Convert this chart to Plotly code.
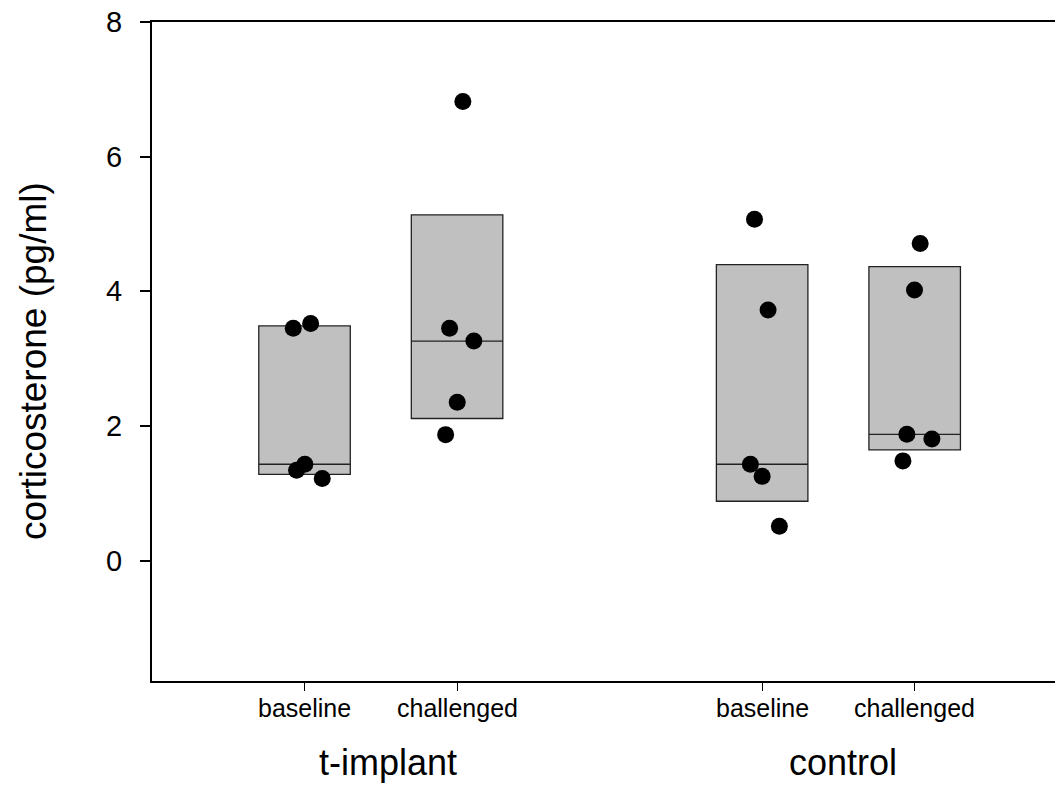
import numpy as np
import plotly.graph_objects as go

# ---- data ----
groups = ["t-implant", "control"]
conditions = ["baseline", "challenged", "baseline", "challenged"]
positions = [1, 2, 4, 5]

timplant_baseline = [3.45, 3.52, 1.43, 1.34, 1.22]
timplant_challenged = [6.82, 3.45, 3.26, 2.35, 1.87]
control_baseline = [5.07, 3.72, 1.43, 1.25, 0.51]
control_challenged = [4.71, 4.02, 1.875, 1.805, 1.48]

# horizontal scatter of the dots around each category
jit_tb = [-0.074, 0.040, 0.002, -0.052, 0.116]
jit_tc = [0.038, -0.049, 0.110, 0.001, -0.075]
jit_cb = [-0.050, 0.039, -0.077, 0.000, 0.113]
jit_cc = [0.036, -0.001, -0.051, 0.113, -0.077]

series = [timplant_baseline, timplant_challenged, control_baseline, control_challenged]
jitters = [jit_tb, jit_tc, jit_cb, jit_cc]


def quartiles(v):
    s = np.sort(np.asarray(v, dtype=float))
    n = len(s)
    med = float(np.median(s))
    lower = s[: n // 2]
    upper = s[(n + 1) // 2:]
    return float(np.median(lower)), med, float(np.median(upper))


fig = go.Figure()

for pos, vals in zip(positions, series):
    q1, med, q3 = quartiles(vals)
    fig.add_trace(go.Box(
        x=[pos], q1=[q1], median=[med], q3=[q3],
        lowerfence=[q1], upperfence=[q3],
        width=0.6, whiskerwidth=0,
        fillcolor="#c0c0c0",
        line=dict(color="#222222", width=1.3),
        boxpoints=False, hoverinfo="skip", showlegend=False,
    ))

for pos, vals, jit in zip(positions, series, jitters):
    fig.add_trace(go.Scatter(
        x=[pos + j for j in jit], y=vals, mode="markers",
        marker=dict(color="black", size=17, line=dict(width=0)),
        showlegend=False, hoverinfo="skip",
    ))

font = "Liberation Sans, Arial, sans-serif"

fig.update_layout(
    width=1055, height=787,
    margin=dict(l=152, r=0, t=22, b=106),
    paper_bgcolor="white", plot_bgcolor="white",
    font=dict(family=font, color="black"),
    xaxis=dict(
        range=[0, 5.92], tickmode="array", tickvals=positions,
        showticklabels=False,
        ticks="outside", ticklen=8, tickwidth=1, tickcolor="black",
        showline=True, linecolor="black", linewidth=2, mirror=True,
        showgrid=False, zeroline=False,
    ),
    yaxis=dict(
        range=[-1.79, 8], tickvals=[0, 2, 4, 6, 8],
        ticks="outside", ticklen=10, tickwidth=2, tickcolor="black",
        showline=True, linecolor="black", linewidth=2, mirror=False,
        showgrid=False, zeroline=False,
        tickfont=dict(size=29, family=font), ticklabelstandoff=12,
    ),
)

# category labels under the ticks
for c, p in zip(conditions, positions):
    fig.add_annotation(
        text=c, xref="x", yref="paper", x=p, y=-0.041,
        xanchor="center", yanchor="middle", showarrow=False,
        font=dict(size=25, family=font, color="black"),
    )

# y-axis title
fig.add_annotation(
    text="corticosterone (pg/ml)", textangle=-90,
    xref="paper", yref="paper", x=-0.1307, y=0.4856,
    xanchor="center", yanchor="middle", showarrow=False,
    font=dict(size=37, family=font, color="black"),
)

# group labels
for g, xc in zip(groups, [1.55, 4.53]):
    fig.add_annotation(
        text=g, xref="x", yref="paper", x=xc, y=-0.124,
        xanchor="center", yanchor="middle", showarrow=False,
        font=dict(size=36, family=font, color="black"),
    )

fig.write_html("out.html")
